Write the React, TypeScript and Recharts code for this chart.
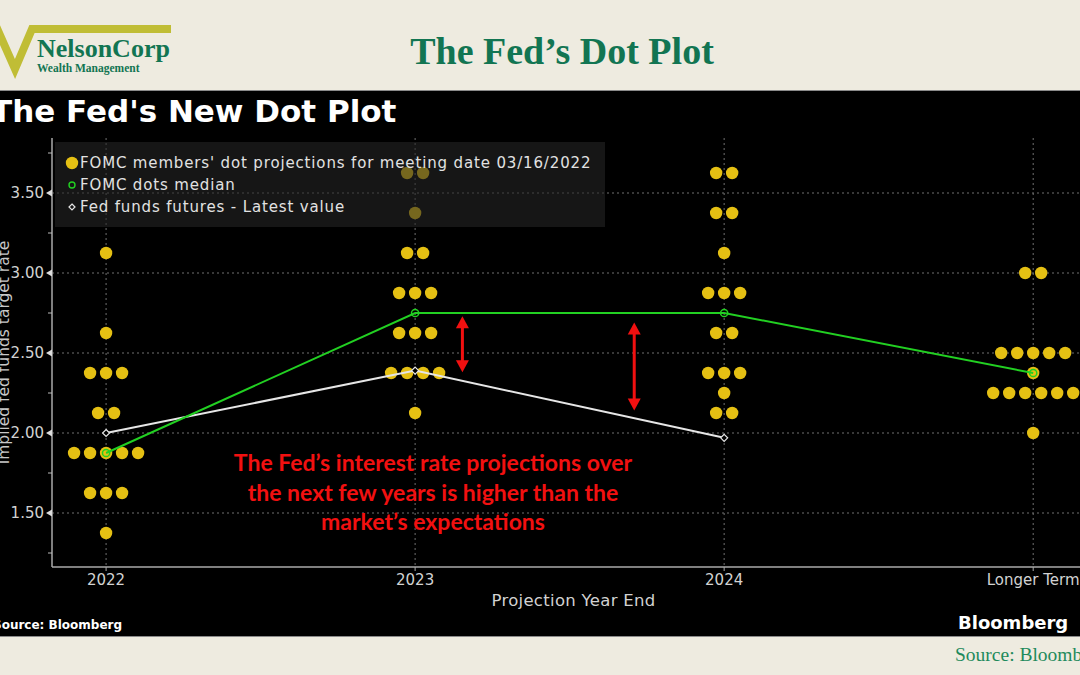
import React from "react";
import { ScatterChart, Scatter, XAxis, YAxis, CartesianGrid, ReferenceLine, Legend } from "recharts";

const categories = ["2022", "2023", "2024", "Longer Term"];

// one entry per FOMC participant
const dots2022 = [3.125, 2.625, 2.375, 2.375, 2.375, 2.125, 2.125, 1.875, 1.875, 1.875, 1.875, 1.875, 1.625, 1.625, 1.625, 1.375];
const dots2023 = [3.625, 3.625, 3.375, 3.125, 3.125, 2.875, 2.875, 2.875, 2.625, 2.625, 2.625, 2.375, 2.375, 2.375, 2.375, 2.125];
const dots2024 = [3.625, 3.625, 3.375, 3.375, 3.125, 2.875, 2.875, 2.875, 2.625, 2.625, 2.375, 2.375, 2.375, 2.25, 2.125, 2.125];
const dotsLonger = [3.0, 3.0, 2.5, 2.5, 2.5, 2.5, 2.5, 2.375, 2.25, 2.25, 2.25, 2.25, 2.25, 2.25, 2.0];

const medians = [1.875, 2.75, 2.75, 2.375];
const futures = [2.0, 2.39, 1.97];

const yLabels = [1.5, 2.0, 2.5, 3.0, 3.5];
const yMinor = [1.25, 1.75, 2.25, 2.75, 3.25, 3.75];

// red gap arrows (x in category units, rates top/bottom)
const gapAt = [1.153, 1.709];
const gapTop = [2.73, 2.69];
const gapBottom = [2.38, 2.14];

const legendLabels = [
  "FOMC members' dot projections for meeting date 03/16/2022",
  "FOMC dots median",
  "Fed funds futures - Latest value",
];
const noteLines = [
  "The Fed\u2019s interest rate projections over",
  "the next few years is higher than the",
  "market\u2019s expectations",
];

const YELLOW = "#E5C013";
const GREEN = "#22D022";
const WHITE = "#E6E6E6";
const RED = "#F21010";
const DARK_GREEN = "#127552";
const FONT = "'DejaVu Sans', sans-serif";
const X_STEP = 16 / 309; // one dot width, in category units

// put equal rates side by side around the category centre
const spread = (rates: number[], idx: number) => {
  const counts = new Map<number, number>();
  rates.forEach((r) => counts.set(r, (counts.get(r) || 0) + 1));
  const seen = new Map<number, number>();
  return rates.map((r) => {
    const n = counts.get(r) || 1;
    const i = seen.get(r) || 0;
    seen.set(r, i + 1);
    return { x: idx + (i - (n - 1) / 2) * X_STEP, y: r };
  });
};

const dotData = [dots2022, dots2023, dots2024, dotsLonger].flatMap(spread);
const medianData = medians.map((y, x) => ({ x, y }));
const futuresData = futures.map((y, x) => ({ x, y }));

const YellowDot = (p: any) => <circle cx={p.cx} cy={p.cy} r={6.2} fill={YELLOW} />;
const MedianRing = (p: any) => (
  <circle cx={p.cx} cy={p.cy} r={3.6} fill="none" stroke={GREEN} strokeWidth={1.5} />
);
const FuturesDiamond = (p: any) => (
  <path
    d={`M${p.cx},${p.cy - 3.5} L${p.cx + 3.5},${p.cy} L${p.cx},${p.cy + 3.5} L${p.cx - 3.5},${p.cy} Z`}
    fill="#000"
    stroke={WHITE}
    strokeWidth={1.2}
  />
);

const YTick = (props: any) => {
  const { x, y, payload } = props;
  const v = payload.value as number;
  if (!yLabels.includes(v)) {
    return <line x1={x - 4} x2={x} y1={y} y2={y} stroke="#bbb" />;
  }
  return (
    <g>
      <path d={`M${x},${y - 3.5} L${x - 6},${y} L${x},${y + 3.5} Z`} fill="#ddd" />
      <text x={x - 8} y={y} dy="0.35em" textAnchor="end" fill="#d2d2d2" fontSize={15} fontFamily={FONT}>
        {v.toFixed(2)}
      </text>
    </g>
  );
};

const YAxisTitle = (p: any) => {
  const vb = p.viewBox || { y: 47, height: 429 };
  const cx = 4;
  const cy = vb.y + vb.height / 2;
  return (
    <text
      x={cx}
      y={cy}
      transform={`rotate(-90 ${cx} ${cy})`}
      textAnchor="middle"
      dominantBaseline="central"
      fill="#c8c8c8"
      fontSize={15.5}
      fontFamily={FONT}
    >
      Implied fed funds target rate
    </text>
  );
};

const XAxisTitle = (p: any) => {
  const vb = p.viewBox || { x: 52, y: 476, width: 1043 };
  return (
    <text
      x={vb.x + vb.width / 2}
      y={vb.y + 33}
      textAnchor="middle"
      dominantBaseline="central"
      fill="#d2d2d2"
      fontSize={16.5}
      fontFamily={FONT}
      letterSpacing={0.3}
    >
      Projection Year End
    </text>
  );
};

const GapArrow = (p: any) => {
  const x = p.x1;
  const top = Math.min(p.y1, p.y2);
  const bot = Math.max(p.y1, p.y2);
  return (
    <g>
      <line x1={x} x2={x} y1={top + 8} y2={bot - 8} stroke={RED} strokeWidth={3} />
      <path d={`M${x},${top} L${x - 6.5},${top + 12} L${x + 6.5},${top + 12} Z`} fill={RED} />
      <path d={`M${x},${bot} L${x - 6.5},${bot - 12} L${x + 6.5},${bot - 12} Z`} fill={RED} />
    </g>
  );
};

const legendIcon = (i: number) => {
  if (i === 0) return <circle cx={7} cy={7} r={6.2} fill={YELLOW} />;
  if (i === 1) return <circle cx={7} cy={7} r={3} fill="none" stroke={GREEN} strokeWidth={1.4} />;
  return <path d="M7,4 L10,7 L7,10 L4,7 Z" fill="none" stroke={WHITE} strokeWidth={1.2} />;
};

const LegendBox = () => (
  <div
    style={{
      width: 550,
      height: 85,
      background: "rgba(38,38,38,0.58)",
      boxSizing: "border-box",
      padding: "10px 0 0 10px",
      fontFamily: FONT,
    }}
  >
    {legendLabels.map((label, i) => (
      <div
        key={label}
        style={{ display: "flex", alignItems: "center", height: 22, color: "#e2e2e2", fontSize: 15, letterSpacing: 0.85 }}
      >
        <svg width={14} height={14} style={{ marginRight: 1, flex: "none" }}>
          {legendIcon(i)}
        </svg>
        <span style={{ whiteSpace: "nowrap" }}>{label}</span>
      </div>
    ))}
  </div>
);

export default function App() {
  return (
    <div
      style={{
        position: "fixed",
        left: 0,
        top: 0,
        width: 1080,
        height: 675,
        overflow: "hidden",
        background: "#EEEBE0",
      }}
    >
      <svg width={1080} height={675} style={{ position: "absolute", left: 0, top: 0 }}>
        {/* logo */}
        <polyline points="-4,26 15,69 32,29 171,29" fill="none" stroke="#C0BD35" strokeWidth={8} strokeLinejoin="miter" />
        <text x={37} y={57} fontFamily="'Liberation Serif', serif" fontWeight="bold" fontSize={26} fill={DARK_GREEN}>
          NelsonCorp
        </text>
        <text x={37} y={72} fontFamily="'Liberation Serif', serif" fontWeight="bold" fontSize={11.5} fill={DARK_GREEN}>
          Wealth Management
        </text>
        <text x={562} y={64} textAnchor="middle" fontFamily="'Liberation Serif', serif" fontWeight="bold" fontSize={38} fill={DARK_GREEN}>
          The Fed’s Dot Plot
        </text>

        {/* Bloomberg panel */}
        <rect x={0} y={91} width={1080} height={545} fill="#000" />
        <line x1={0} x2={1080} y1={90.5} y2={90.5} stroke="#8a8a8a" />
        <line x1={0} x2={1080} y1={636.5} y2={636.5} stroke="#8a8a8a" />
        <text x={-9} y={122} fontFamily={FONT} fontWeight="bold" fontSize={31} fill="#fff">
          The Fed's New Dot Plot
        </text>
        <text x={-7} y={629} fontFamily={FONT} fontWeight="bold" fontSize={12} fill="#fff">
          Source: Bloomberg
        </text>
        <text x={958} y={629} fontFamily={FONT} fontWeight="bold" fontSize={18} fill="#fff">
          Bloomberg
        </text>

        <text x={955} y={661} fontFamily="'Liberation Serif', serif" fontSize={19.5} fill="#1E8A5C">
          Source: Bloomberg
        </text>
      </svg>

      <div style={{ position: "absolute", left: 0, top: 91 }}>
        <ScatterChart width={1100} height={545} margin={{ top: 47, right: 5, bottom: 9, left: 0 }}>
          <CartesianGrid
            stroke="#707070"
            strokeDasharray="2 3"
            horizontalValues={yLabels}
            verticalValues={[0, 1, 2, 3]}
          />
          <XAxis
            type="number"
            dataKey="x"
            domain={[-0.175, 3.2]}
            ticks={[0, 1, 2, 3]}
            interval={0}
            allowDataOverflow
            tickFormatter={(v: number) => categories[v] ?? ""}
            height={60}
            tickSize={4}
            tickMargin={3}
            axisLine={{ stroke: "#aaa", strokeWidth: 1.5 }}
            tickLine={{ stroke: "#aaa" }}
            tick={{ fill: "#d2d2d2", fontSize: 15, fontFamily: FONT }}
            label={{ content: XAxisTitle }}
          />
          <YAxis
            type="number"
            dataKey="y"
            domain={[1.1625, 3.84375]}
            ticks={[...yLabels, ...yMinor].sort((a, b) => a - b)}
            interval={0}
            allowDataOverflow
            width={52}
            tickSize={0}
            tickMargin={0}
            axisLine={{ stroke: "#aaa", strokeWidth: 1.5 }}
            tick={<YTick />}
            label={{ content: YAxisTitle }}
          />
          <Scatter name={legendLabels[0]} data={dotData} shape={YellowDot} isAnimationActive={false} />
          <Scatter
            name={legendLabels[2]}
            data={futuresData}
            line={{ stroke: WHITE, strokeWidth: 2 }}
            shape={FuturesDiamond}
            isAnimationActive={false}
          />
          <Scatter
            name={legendLabels[1]}
            data={medianData}
            line={{ stroke: GREEN, strokeWidth: 2 }}
            shape={MedianRing}
            isAnimationActive={false}
          />
          {gapAt.map((x, i) => (
            <ReferenceLine
              key={i}
              segment={[
                { x, y: gapTop[i] },
                { x, y: gapBottom[i] },
              ]}
              ifOverflow="visible"
              shape={GapArrow}
            />
          ))}
          <Legend
            layout="horizontal"
            verticalAlign="middle"
            align="center"
            wrapperStyle={{ left: 55, top: 51, width: 550, height: 85 }}
            content={LegendBox}
          />
        </ScatterChart>
      </div>

      <div
        style={{
          position: "absolute",
          left: 183,
          top: 448,
          width: 500,
          textAlign: "center",
          fontFamily: "Lato, sans-serif",
          fontWeight: "bold",
          fontSize: 23,
          lineHeight: "29.5px",
          color: RED,
        }}
      >
        {noteLines.map((l) => (
          <div key={l}>{l}</div>
        ))}
      </div>
    </div>
  );
}
